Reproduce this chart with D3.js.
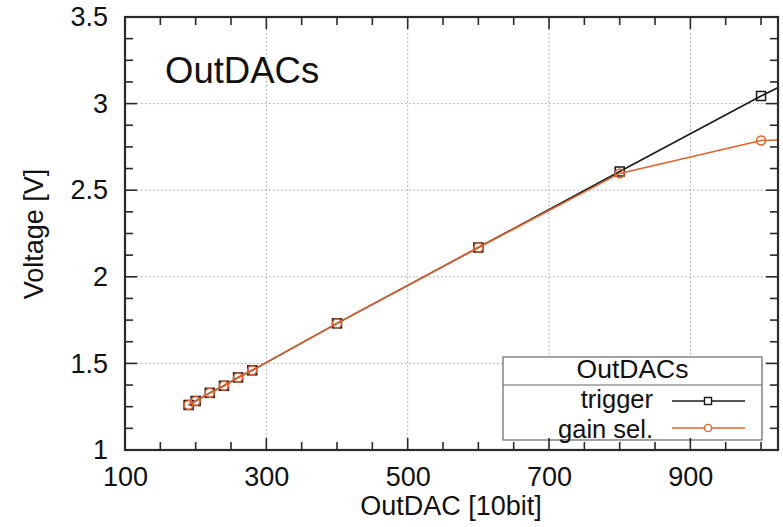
<!DOCTYPE html>
<html>
<head>
<meta charset="utf-8">
<script src="https://cdn.jsdelivr.net/npm/d3@7"></script>
<style>
  html, body { margin: 0; padding: 0; background: #fff; }
  svg { display: block; font-family: "Liberation Sans", Arial, sans-serif; }
</style>
</head>
<body>
<svg id="chart" width="783" height="527"></svg>
<script>
// OutDAC code (10 bit) and measured output voltage per DAC
const dacCodes   = [190, 200, 220, 240, 260, 280, 400, 600, 800, 1000, 1023];
const triggerV   = [1.26, 1.283, 1.33, 1.371, 1.419, 1.46, 1.731, 2.169, 2.608, 3.044, 3.09];
const gainSelV   = [1.26, 1.283, 1.33, 1.371, 1.419, 1.46, 1.731, 2.169, 2.597, 2.787, 2.79];
const xTickLabels = [100, 300, 500, 700, 900];
const yTickLabels = [1, 1.5, 2, 2.5, 3, 3.5];

const series = [
  { name: "trigger",   values: triggerV, color: "#1a1a1a", marker: "square" },
  { name: "gain sel.", values: gainSelV, color: "#e4622c", marker: "circle" }
];

const svg = d3.select("#chart");
const m = { left: 125, top: 17, right: 778, bottom: 450 };
const W = m.right - m.left, H = m.bottom - m.top;

const x = d3.scaleLinear().domain([100, 1024]).range([m.left, m.right]);
const y = d3.scaleLinear().domain([1, 3.5]).range([m.bottom, m.top]);

svg.append("defs").append("clipPath").attr("id", "plot-clip")
  .append("rect").attr("x", m.left).attr("y", m.top).attr("width", W).attr("height", H);

// dotted grid at labelled ticks (excluding the frame edges)
const grid = svg.append("g").attr("stroke", "#a0a0a0").attr("stroke-width", 1)
  .attr("stroke-dasharray", "1.5,2.5");
xTickLabels.filter(v => v > 100).forEach(v => {
  grid.append("line").attr("x1", x(v)).attr("x2", x(v)).attr("y1", m.top).attr("y2", m.bottom);
});
yTickLabels.filter(v => v > 1 && v < 3.5).forEach(v => {
  grid.append("line").attr("x1", m.left).attr("x2", m.right).attr("y1", y(v)).attr("y2", y(v));
});

// series lines and markers
const plot = svg.append("g").attr("clip-path", "url(#plot-clip)");
series.forEach(s => {
  const pts = dacCodes.map((d, i) => [d, s.values[i]]);
  plot.append("path")
    .datum(pts)
    .attr("fill", "none").attr("stroke", s.color).attr("stroke-width", 1.6)
    .attr("d", d3.line().x(d => x(d[0])).y(d => y(d[1])));
  // markers are only drawn when the whole symbol lies inside the plot range
  const shown = pts.filter(d => x(d[0]) + 5 <= m.right);
  if (s.marker === "square") {
    plot.selectAll(null).data(shown).join("rect")
      .attr("x", d => x(d[0]) - 4.5).attr("y", d => y(d[1]) - 4.5)
      .attr("width", 9).attr("height", 9)
      .attr("fill", "none").attr("stroke", s.color).attr("stroke-width", 1.5);
  } else {
    plot.selectAll(null).data(shown).join("circle")
      .attr("cx", d => x(d[0])).attr("cy", d => y(d[1])).attr("r", 4.5)
      .attr("fill", "none").attr("stroke", s.color).attr("stroke-width", 1.5);
  }
});

// inner title
svg.append("text").attr("x", 165).attr("y", 83).attr("font-size", 36.5)
  .attr("fill", "#111").text("OutDACs");

// legend box
const lg = svg.append("g");
const lx0 = 503, lx1 = 762, ly0 = 357, ly1 = 440, ldiv = 385;
lg.append("rect").attr("x", lx0).attr("y", ly0).attr("width", lx1 - lx0).attr("height", ly1 - ly0)
  .attr("fill", "#fff").attr("stroke", "#666").attr("stroke-width", 1.2);
lg.append("line").attr("x1", lx0).attr("x2", lx1).attr("y1", ldiv).attr("y2", ldiv)
  .attr("stroke", "#666").attr("stroke-width", 1.2);
lg.append("text").attr("x", (lx0 + lx1) / 2).attr("y", 377.5).attr("text-anchor", "middle")
  .attr("font-size", 26.5).attr("fill", "#111").text("OutDACs");
series.forEach((s, i) => {
  const cy = 401 + i * 27;
  lg.append("text").attr("x", 653).attr("y", 407.5 + i * 30).attr("text-anchor", "end")
    .attr("font-size", 25.5).attr("fill", "#111").text(s.name);
  lg.append("line").attr("x1", 672).attr("x2", 745).attr("y1", cy).attr("y2", cy)
    .attr("stroke", s.color).attr("stroke-width", 1.6);
  if (s.marker === "square") {
    lg.append("rect").attr("x", 708 - 3.5).attr("y", cy - 3.5).attr("width", 7).attr("height", 7)
      .attr("fill", "#fff").attr("stroke", s.color).attr("stroke-width", 1.4);
  } else {
    lg.append("circle").attr("cx", 708).attr("cy", cy).attr("r", 3.6)
      .attr("fill", "#fff").attr("stroke", s.color).attr("stroke-width", 1.4);
  }
});

// tick marks on all four sides, pointing inward
const frameColor = "#2a2a2a";
const xMinor = d3.range(150, 1001, 50);
const yMinor = d3.range(1.125, 3.5, 0.125);
const ticks = svg.append("g").attr("stroke", frameColor).attr("stroke-width", 1.6);
xMinor.forEach(v => {
  const len = xTickLabels.includes(v) ? 12 : 8;
  ticks.append("line").attr("x1", x(v)).attr("x2", x(v)).attr("y1", m.bottom).attr("y2", m.bottom - len);
  ticks.append("line").attr("x1", x(v)).attr("x2", x(v)).attr("y1", m.top).attr("y2", m.top + len);
});
yMinor.forEach(v => {
  const major = yTickLabels.some(t => Math.abs(t - v) < 1e-9);
  const len = major ? 12 : 8;
  ticks.append("line").attr("x1", m.left).attr("x2", m.left + len).attr("y1", y(v)).attr("y2", y(v));
  ticks.append("line").attr("x1", m.right).attr("x2", m.right - len).attr("y1", y(v)).attr("y2", y(v));
});

// frame
svg.append("rect").attr("x", m.left).attr("y", m.top).attr("width", W).attr("height", H)
  .attr("fill", "none").attr("stroke", frameColor).attr("stroke-width", 2.2);

// tick labels via d3 axes (lines hidden, text only)
const xAxis = svg.append("g").attr("transform", `translate(0,${m.bottom})`)
  .call(d3.axisBottom(x).tickValues(xTickLabels).tickSize(0).tickPadding(17).tickFormat(d3.format("d")));
const yAxis = svg.append("g").attr("transform", `translate(${m.left},0)`)
  .call(d3.axisLeft(y).tickValues(yTickLabels).tickSize(0).tickPadding(17).tickFormat(d => String(d)));
[xAxis, yAxis].forEach(a => {
  a.select(".domain").remove();
  a.selectAll("text").attr("font-size", 27).attr("fill", "#111")
    .attr("font-family", "'Liberation Sans', Arial, sans-serif");
});

// axis titles
svg.append("text").attr("x", 451).attr("y", 515).attr("text-anchor", "middle")
  .attr("font-size", 27).attr("fill", "#111").text("OutDAC [10bit]");
svg.append("text").attr("transform", "translate(43,234) rotate(-90)").attr("text-anchor", "middle")
  .attr("font-size", 27).attr("fill", "#111").text("Voltage [V]");
</script>
</body>
</html>
